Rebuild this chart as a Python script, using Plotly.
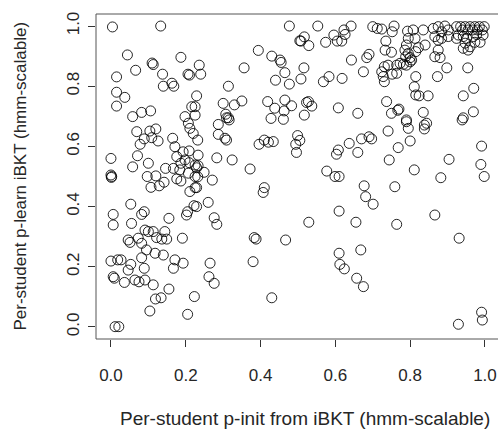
import plotly.graph_objects as go

# Per-student p-init (x) and p-learn (y)
p_init = [
    0.004, 0.133, 0.044, 0.110, 0.113, 0.187, 0.066, 0.015, 0.138, 0.206, 0.210, 0.236, 0.240,
    0.163, 0.140, 0.168, 0.015, 0.037, 0.015, 0.229, 0.216, 0.225, 0.082, 0.106, 0.058, 0.198, 0.225,
    0.477, 0.505, 0.394, 0.430, 0.452, 0.455, 0.356, 0.465, 0.440, 0.477, 0.314, 0.300, 0.330,
    0.350, 0.419, 0.438, 0.465, 0.483, 0.463, 0.307, 0.314, 0.428, 0.461,
    0.553, 0.517, 0.508, 0.529, 0.574, 0.596, 0.605, 0.617, 0.623, 0.626, 0.642, 0.700, 0.712,
    0.724, 0.757, 0.752, 0.735, 0.733, 0.750, 0.690, 0.684, 0.643, 0.516, 0.508, 0.675, 0.731,
    0.741, 0.764, 0.724, 0.728, 0.731, 0.752, 0.568, 0.583, 0.618, 0.528, 0.523, 0.537, 0.517,
    0.608, 0.660, 0.737, 0.750, 0.767,
    0.793, 0.808, 0.795, 0.813, 0.835, 0.822, 0.790, 0.786, 0.795, 0.788, 0.800, 0.815, 0.804,
    0.840, 0.862, 0.875, 0.893, 0.902, 0.884, 0.866, 0.884, 0.902, 0.875,
    0.924, 0.935, 0.947, 0.960, 0.973, 0.985, 0.998, 0.940, 0.955, 0.967, 0.980, 0.993,
    0.929, 0.942, 0.924, 0.951, 0.969, 0.978, 0.995, 0.947, 0.960, 0.973, 0.942, 0.955, 0.987,
    0.875, 0.866, 0.880, 0.773, 0.782, 0.790, 0.800, 0.764, 0.898, 0.954, 0.873, 0.815, 0.811,
    0.815, 0.824, 0.848, 0.942, 0.970, 0.770, 0.835, 0.942, 0.969, 0.790,
    0.069, 0.104, 0.120, 0.089, 0.109, 0.126, 0.078, 0.165, 0.000, 0.071, 0.058, 0.100, 0.000,
    0.002, 0.001, 0.097, 0.120, 0.107, 0.129, 0.142, 0.146, 0.167, 0.171, 0.176, 0.187, 0.193,
    0.209, 0.198, 0.209, 0.225, 0.233, 0.176, 0.187, 0.184, 0.207, 0.225, 0.229, 0.211, 0.225,
    0.207, 0.211, 0.220, 0.053, 0.006, 0.089, 0.082, 0.155, 0.205, 0.202, 0.222, 0.006, 0.055,
    0.232, 0.287, 0.287, 0.305, 0.309, 0.316, 0.309, 0.396, 0.410, 0.421, 0.434, 0.499, 0.505,
    0.494, 0.496, 0.283, 0.324, 0.372, 0.233, 0.232, 0.249, 0.271, 0.229, 0.410, 0.407, 0.260,
    0.229, 0.276, 0.283,
    0.608, 0.603, 0.637, 0.660, 0.670, 0.690, 0.697, 0.741, 0.744, 0.768, 0.577, 0.599, 0.610,
    0.677, 0.759, 0.681, 0.701, 0.610, 0.529, 0.655, 0.764,
    0.790, 0.795, 0.838, 0.838, 0.844, 0.939, 0.800, 0.991, 0.904, 0.989, 0.998, 0.811, 0.882,
    0.866,
    0.091, 0.100, 0.113, 0.144, 0.122, 0.136, 0.149, 0.073, 0.046, 0.051, 0.082, 0.095, 0.082,
    0.118, 0.140, 0.191, 0.171, 0.193, 0.167, 0.053, 0.089, 0.000, 0.018, 0.027, 0.046, 0.006,
    0.009, 0.036, 0.064, 0.075, 0.091, 0.113, 0.155, 0.119, 0.134, 0.223, 0.104, 0.205, 0.011,
    0.021,
    0.383, 0.388, 0.467, 0.265, 0.380, 0.262, 0.276, 0.430,
    0.610, 0.612, 0.624, 0.668, 0.657, 0.675,
    0.931, 0.929, 0.991, 0.993,
]
p_learn = [
    0.997, 1.000, 0.904, 0.877, 0.872, 0.896, 0.853, 0.831, 0.840, 0.840, 0.837, 0.870, 0.840,
    0.810, 0.800, 0.800, 0.780, 0.763, 0.734, 0.768, 0.732, 0.732, 0.713, 0.718, 0.699, 0.699, 0.704,
    1.000, 0.951, 0.919, 0.900, 0.887, 0.879, 0.861, 0.845, 0.820, 0.807, 0.800, 0.743, 0.738,
    0.751, 0.749, 0.727, 0.754, 0.735, 0.718, 0.707, 0.695, 0.693, 0.690,
    1.000, 0.964, 0.950, 0.935, 0.946, 0.970, 0.950, 0.950, 0.987, 0.972, 1.000, 0.998, 0.992,
    0.990, 1.000, 0.981, 0.950, 0.920, 0.913, 0.906, 0.895, 0.887, 0.861, 0.824, 0.848, 0.865,
    0.870, 0.870, 0.848, 0.832, 0.815, 0.840, 0.815, 0.832, 0.826, 0.749, 0.746, 0.734, 0.704,
    0.728, 0.710, 0.749, 0.710, 0.720,
    0.983, 0.987, 0.959, 0.959, 0.987, 0.928, 0.937, 0.920, 0.909, 0.898, 0.895, 0.915, 0.887,
    0.937, 0.992, 0.998, 1.000, 0.987, 0.981, 0.965, 0.959, 0.965, 0.953,
    0.998, 0.998, 0.998, 0.998, 0.998, 0.998, 0.998, 0.987, 0.987, 0.987, 0.987, 0.987,
    0.970, 0.965, 0.959, 0.959, 0.965, 0.972, 0.970, 0.943, 0.931, 0.946, 0.926, 0.920, 0.946,
    0.920, 0.898, 0.895, 0.876, 0.873, 0.870, 0.881, 0.843, 0.861, 0.861, 0.832, 0.832, 0.798,
    0.771, 0.768, 0.768, 0.768, 0.793, 0.724, 0.713, 0.695, 0.715, 0.688,
    0.649, 0.651, 0.658, 0.625, 0.629, 0.618, 0.607, 0.627, 0.560, 0.569, 0.532, 0.544, 0.505,
    0.500, 0.497, 0.500, 0.502, 0.464, 0.469, 0.481, 0.527, 0.527, 0.599, 0.566, 0.544, 0.582,
    0.585, 0.555, 0.546, 0.538, 0.571, 0.492, 0.485, 0.522, 0.511, 0.500, 0.529, 0.450, 0.463,
    0.677, 0.660, 0.643, 0.408, 0.374, 0.383, 0.374, 0.361, 0.383, 0.372, 0.403, 0.339, 0.344,
    0.621, 0.673, 0.640, 0.627, 0.621, 0.688, 0.695, 0.607, 0.621, 0.614, 0.616, 0.636, 0.620,
    0.607, 0.580, 0.562, 0.555, 0.525, 0.536, 0.499, 0.514, 0.488, 0.463, 0.463, 0.447, 0.414,
    0.400, 0.363, 0.341,
    0.588, 0.574, 0.610, 0.580, 0.625, 0.632, 0.625, 0.651, 0.555, 0.596, 0.518, 0.500, 0.500,
    0.469, 0.466, 0.433, 0.408, 0.385, 0.348, 0.348, 0.341,
    0.682, 0.660, 0.671, 0.658, 0.677, 0.688, 0.618, 0.601, 0.557, 0.540, 0.500, 0.522, 0.496,
    0.372,
    0.322, 0.317, 0.317, 0.317, 0.297, 0.292, 0.292, 0.295, 0.289, 0.281, 0.278, 0.256, 0.230,
    0.245, 0.239, 0.295, 0.223, 0.212, 0.195, 0.208, 0.195, 0.219, 0.223, 0.223, 0.189, 0.167,
    0.162, 0.148, 0.156, 0.150, 0.156, 0.140, 0.126, 0.093, 0.097, 0.101, 0.053, 0.042, 0.001,
    0.001,
    0.297, 0.292, 0.289, 0.212, 0.217, 0.167, 0.145, 0.097,
    0.245, 0.208, 0.193, 0.256, 0.162, 0.134,
    0.295, 0.009, 0.049, 0.023,
]

tick_vals = [0.0, 0.2, 0.4, 0.6, 0.8, 1.0]
tick_text = ["0.0", "0.2", "0.4", "0.6", "0.8", "1.0"]
x_title = "Per-student p-init from iBKT (hmm-scalable)"
y_title = "Per-student p-learn iBKT (hmm-scalable)"

FONT = "Liberation Sans, Arial, sans-serif"
TXT = "#262626"
FS = 17

fig = go.Figure(go.Scatter(
    x=p_init, y=p_learn, mode="markers",
    marker=dict(symbol="circle-open", size=10, color="rgba(0,0,0,0.85)",
                line=dict(width=1, color="rgba(0,0,0,0.85)")),
    hoverinfo="skip",
))

axis_common = dict(
    tickvals=tick_vals, ticktext=tick_text, ticks="outside", ticklen=7,
    tickwidth=1, tickcolor="#333", showgrid=False, zeroline=False,
    showline=False, automargin=False,
    tickfont=dict(family=FONT, size=FS, color=TXT),
)

fig.update_layout(
    width=498, height=430,
    margin=dict(l=96, r=0, t=14, b=91, autoexpand=False),
    paper_bgcolor="white", plot_bgcolor="white",
    showlegend=False,
    xaxis=dict(range=[-0.04, -0.04 + 402 / 374], ticklabelstandoff=14, **axis_common),
    yaxis=dict(range=[-0.04, 1.04], tickangle=-90, ticklabelstandoff=2, **axis_common),
    shapes=[dict(type="rect", xref="paper", yref="paper", x0=0, x1=1.02, y0=0, y1=1,
                 line=dict(color="#555", width=1), layer="above")],
    annotations=[
        dict(text=x_title, xref="paper", yref="paper", x=0.52, y=-79 / 325,
             xanchor="center", yanchor="middle", showarrow=False,
             font=dict(family=FONT, size=19, color=TXT)),
        dict(text=y_title, xref="paper", yref="paper", x=-76 / 402, y=0.5,
             xanchor="center", yanchor="middle", textangle=-90, showarrow=False,
             font=dict(family=FONT, size=FS, color=TXT)),
    ],
)

fig.write_html(
    "out.html",
    config={"displayModeBar": False},
    post_script="document.body.style.margin='0';document.body.style.overflow='hidden';",
)
